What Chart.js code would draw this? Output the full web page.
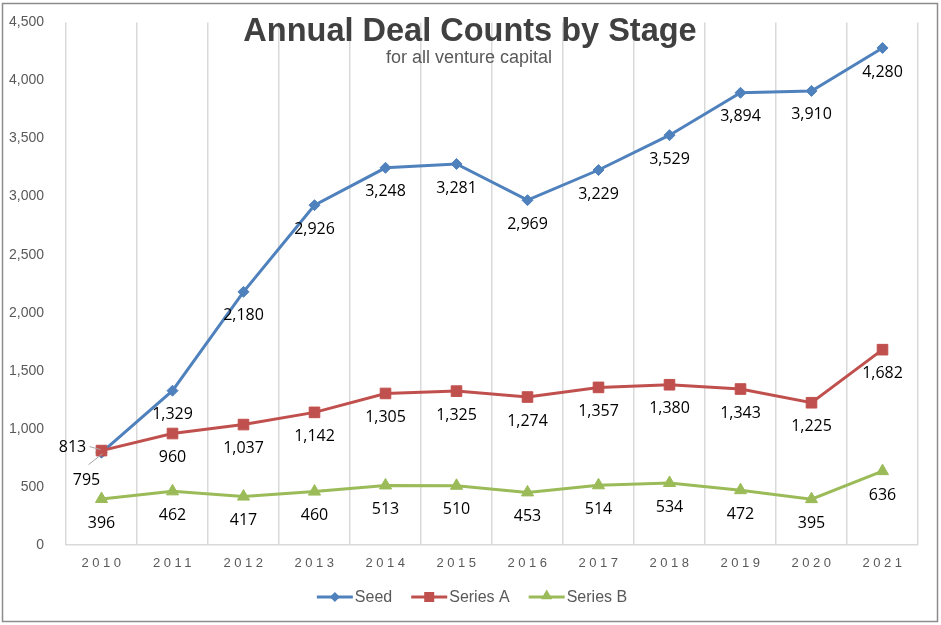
<!DOCTYPE html>
<html>
<head>
<meta charset="utf-8">
<title>Annual Deal Counts by Stage</title>
<script src="https://cdn.jsdelivr.net/npm/chart.js@4"></script>
<style>
  html, body { margin: 0; padding: 0; background: #fff; }
  #wrap { position: relative; width: 941px; height: 625px; }
</style>
</head>
<body>
<div id="wrap"><canvas id="dealChart"></canvas></div>
<script>
const years = ['2010', '2011', '2012', '2013', '2014', '2015', '2016', '2017', '2018', '2019', '2020', '2021'];
const seedDeals = [795, 1329, 2180, 2926, 3248, 3281, 2969, 3229, 3529, 3894, 3910, 4280];
const seriesADeals = [813, 960, 1037, 1142, 1305, 1325, 1274, 1357, 1380, 1343, 1225, 1682];
const seriesBDeals = [396, 462, 417, 460, 513, 510, 453, 514, 534, 472, 395, 636];
const yTicks = [0, 500, 1000, 1500, 2000, 2500, 3000, 3500, 4000, 4500];

const fmt = v => v.toLocaleString('en-US');

// labels sit under the points, except the two crowded ones in 2010
const labelShift = {
    '0-0': { dx: -15, dy: 28, lead: true },
    '1-0': { dx: -29, dy: -3, lead: true }
};

const dataLabels = {
    id: 'dataLabels',
    afterDatasetsDraw(chart) {
        const ctx = chart.ctx;
        ctx.save();
        ctx.font = '16px "Open Sans"';
        ctx.fillStyle = '#000';
        ctx.textAlign = 'center';
        ctx.textBaseline = 'middle';
        chart.data.datasets.forEach((ds, di) => {
            const meta = chart.getDatasetMeta(di);
            meta.data.forEach((pt, i) => {
                const s = labelShift[di + '-' + i];
                let x = pt.x, y = pt.y + 24;
                if (s) {
                    x = pt.x + s.dx;
                    y = pt.y + s.dy;
                    ctx.strokeStyle = '#a6a6a6';
                    ctx.lineWidth = 1;
                    ctx.beginPath();
                    if (di === 1) {
                        ctx.moveTo(x + 17, y - 1);
                        ctx.lineTo(pt.x - 1, pt.y - 1);
                    } else {
                        ctx.moveTo(x + 2, y - 16);
                        ctx.lineTo(pt.x + 1, pt.y + 1);
                    }
                    ctx.stroke();
                }
                ctx.fillText(fmt(ds.data[i]), x, y);
            });
        });
        ctx.restore();
    }
};

function drawMarker(ctx, style, x, y, r, color) {
    ctx.fillStyle = color;
    ctx.beginPath();
    if (style === 'rectRot') {
        ctx.moveTo(x, y - r); ctx.lineTo(x + r, y); ctx.lineTo(x, y + r); ctx.lineTo(x - r, y);
    } else if (style === 'rect') {
        ctx.rect(x - r, y - r, 2 * r, 2 * r);
    } else {
        ctx.moveTo(x, y - r); ctx.lineTo(x + r * 0.87, y + r * 0.5); ctx.lineTo(x - r * 0.87, y + r * 0.5);
    }
    ctx.closePath();
    ctx.fill();
}

const decorations = {
    id: 'decorations',
    afterDraw(chart) {
        const ctx = chart.ctx;
        const xs = chart.scales.x;
        ctx.save();

        // frame
        ctx.strokeStyle = '#8c8c8c';
        ctx.lineWidth = 1.5;
        ctx.strokeRect(2.5, 3.5, 935, 618);

        // title
        ctx.textAlign = 'center';
        ctx.textBaseline = 'alphabetic';
        ctx.fillStyle = '#404040';
        ctx.font = 'bold 32.5px "Liberation Sans"';
        ctx.fillText('Annual Deal Counts by Stage', 470, 41);
        ctx.fillStyle = '#595959';
        ctx.font = '18px "Liberation Sans"';
        ctx.fillText('for all venture capital', 469, 63);

        // spaced year labels
        ctx.font = '13px "Liberation Sans"';
        ctx.letterSpacing = '3.5px';
        ctx.textBaseline = 'middle';
        years.forEach((yr, i) => {
            ctx.fillText(yr, xs.getPixelForValue(i) + 1.5, 563);
        });
        ctx.letterSpacing = '0px';

        // legend: line with marker
        ctx.font = '16px "Liberation Sans"';
        ctx.textAlign = 'left';
        const items = chart.data.datasets.map(ds => ({
            text: ds.label, color: ds.borderColor, style: ds.pointStyle,
            w: 38 + ctx.measureText(ds.label).width
        }));
        const gap = 19;
        const total = items.reduce((a, it) => a + it.w, 0) + gap * (items.length - 1);
        let x = 472 - total / 2;
        const y = 597;
        items.forEach(it => {
            ctx.strokeStyle = it.color;
            ctx.lineWidth = 3;
            ctx.beginPath();
            ctx.moveTo(x, y);
            ctx.lineTo(x + 36, y);
            ctx.stroke();
            drawMarker(ctx, it.style, x + 18, it.style === 'triangle' ? y - 1 : y, it.style === 'triangle' ? 6.5 : 5, it.color);
            ctx.fillStyle = '#595959';
            ctx.fillText(it.text, x + 38, y + 1);
            x += it.w + gap;
        });
        ctx.restore();
    }
};

const ctx = document.getElementById('dealChart').getContext('2d');
new Chart(ctx, {
    type: 'line',
    data: {
        labels: years,
        datasets: [{
            label: 'Seed',
            data: seedDeals,
            order: 3,
            borderColor: '#4f81bd',
            backgroundColor: '#4f81bd',
            borderWidth: 3,
            pointStyle: 'rectRot',
            pointRadius: 5.5,
            pointBorderWidth: 1
        }, {
            label: 'Series A',
            data: seriesADeals,
            order: 2,
            borderColor: '#c0504d',
            backgroundColor: '#c0504d',
            borderWidth: 3,
            pointStyle: 'rect',
            pointRadius: 7.5,
            pointBorderWidth: 1
        }, {
            label: 'Series B',
            data: seriesBDeals,
            order: 1,
            borderColor: '#9bbb59',
            backgroundColor: '#9bbb59',
            borderWidth: 3,
            pointStyle: 'triangle',
            pointRadius: 7,
            pointBorderWidth: 1
        }]
    },
    options: {
        responsive: true,
        maintainAspectRatio: false,
        animation: false,
        layout: { padding: { left: 0, right: 23, top: 22, bottom: 50 } },
        plugins: {
            legend: { display: false },
            title: { display: false },
            tooltip: { enabled: false }
        },
        scales: {
            x: {
                offset: true,
                grid: { color: '#d9d9d9', lineWidth: 1.5, offset: true, drawTicks: false },
                border: { color: '#d9d9d9', width: 1.5 },
                ticks: { display: false },
                afterFit: s => { s.height = 30; }
            },
            y: {
                min: 0,
                max: 4500,
                afterBuildTicks: s => { s.ticks = yTicks.map(v => ({ value: v })); },
                grid: { display: false },
                border: { display: false },
                ticks: {
                    padding: 14,
                    color: '#595959',
                    font: { family: 'Liberation Sans', size: 14 },
                    callback: v => fmt(v)
                },
                afterFit: s => { s.width = 66; }
            }
        }
    },
    plugins: [dataLabels, decorations]
});
</script>
</body>
</html>
